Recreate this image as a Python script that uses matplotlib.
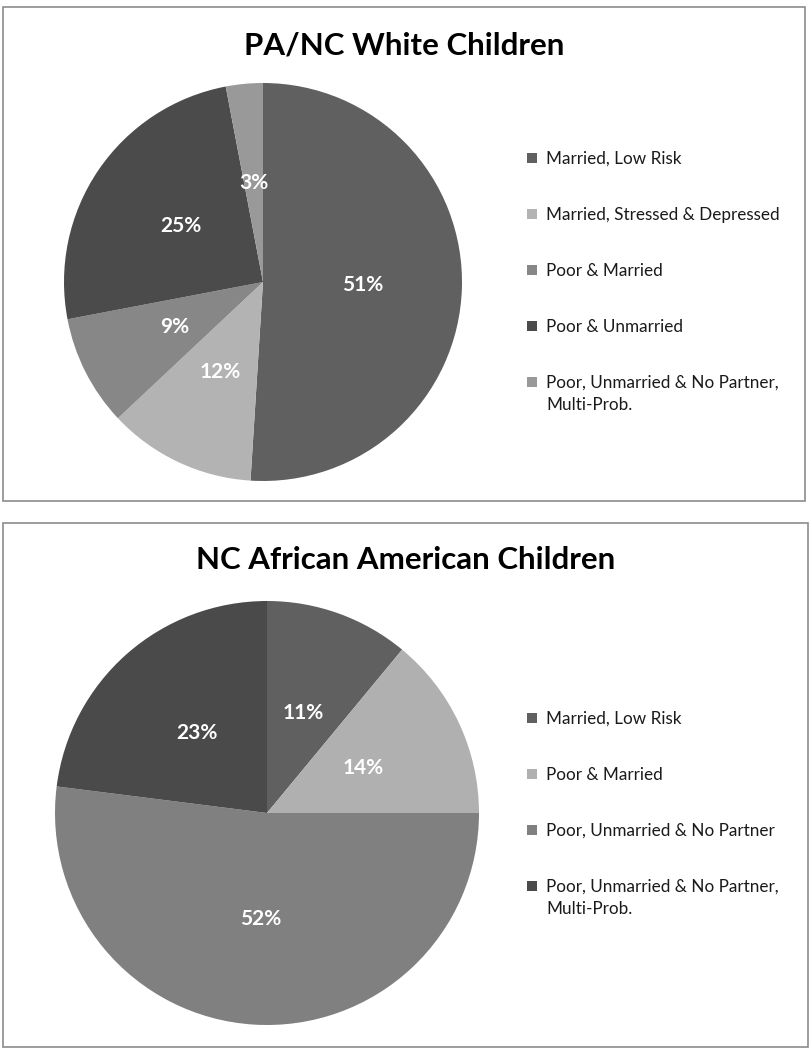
import matplotlib
matplotlib.use("Agg")
import matplotlib.pyplot as plt
from matplotlib.patches import Rectangle

plt.rcParams["font.family"] = ["Lato", "DejaVu Sans"]

# ---------------------------------------------------------------------------
# Data
# ---------------------------------------------------------------------------
white_title = "PA/NC White Children"
white_labels = [
    "Married, Low Risk",
    "Married, Stressed & Depressed",
    "Poor & Married",
    "Poor & Unmarried",
    "Poor, Unmarried & No Partner,\nMulti-Prob.",
]
white_values = [51, 12, 9, 25, 3]
white_colors = ["#606060", "#b3b3b3", "#878787", "#4b4b4b", "#999999"]

aa_title = "NC African American Children"
aa_labels = [
    "Married, Low Risk",
    "Poor & Married",
    "Poor, Unmarried & No Partner",
    "Poor, Unmarried & No Partner,\nMulti-Prob.",
]
aa_values = [11, 14, 52, 23]
aa_colors = ["#606060", "#b0b0b0", "#808080", "#4a4a4a"]

W, H = 810, 1050
fig = plt.figure(figsize=(W / 100, H / 100), dpi=100)


def px_box(x0, y0, x1, y1):
    """Pixel box (top-left origin) -> figure-fraction rect."""
    return [x0 / W, 1 - y1 / H, (x1 - x0) / W, (y1 - y0) / H]


def panel(border, pie_box, title, title_y, values, labels, colors, leg_x, leg_y0):
    bx0, by0, bx1, by1 = border
    fig.patches.append(Rectangle((bx0 / W, 1 - by1 / H), (bx1 - bx0) / W, (by1 - by0) / H,
                                 transform=fig.transFigure, fill=False,
                                 edgecolor="#8c8c8c", linewidth=1.2))
    fig.text((bx0 + bx1) / 2 / W, 1 - title_y / H, title, ha="center", va="center",
             fontsize=22.5, fontweight="bold", color="black")

    ax = fig.add_axes(px_box(*pie_box))
    ax.pie(
        values, colors=colors, startangle=90, counterclock=False,
        autopct="%1.0f%%", pctdistance=0.5,
        wedgeprops=dict(linewidth=0),
        textprops=dict(color="white", fontsize=15, fontweight="bold"),
    )
    ax.set_xlim(-1, 1)
    ax.set_ylim(-1, 1)
    ax.set_aspect("equal")
    ax.axis("off")

    # legend, drawn by hand so the marker sits on the first line of the label
    for i, (lab, col) in enumerate(zip(labels, colors)):
        yc = leg_y0 + i * 56
        fig.patches.append(Rectangle(((leg_x - 19) / W, 1 - (yc + 5) / H), 10 / W, 10 / H,
                                     transform=fig.transFigure, facecolor=col,
                                     edgecolor="none"))
        fig.text(leg_x / W, 1 - (yc - 7) / H, lab, ha="left", va="top",
                 fontsize=12.3, color="#1a1a1a", linespacing=1.45)


panel((3, 7, 805, 501), (64, 83, 462, 481), white_title, 46,
      white_values, white_labels, white_colors, 546, 158)
panel((3, 523, 808, 1047), (55, 601, 479, 1025), aa_title, 560,
      aa_values, aa_labels, aa_colors, 546, 718)

fig.savefig("out.png", dpi=100)
